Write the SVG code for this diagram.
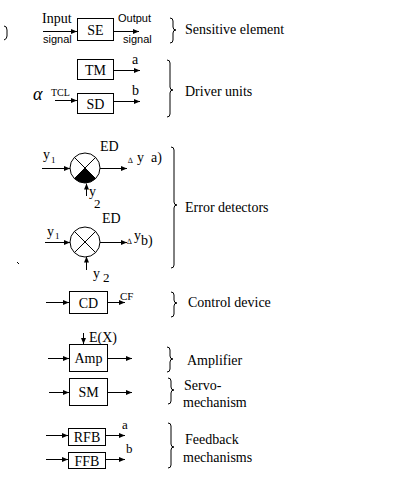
<svg xmlns="http://www.w3.org/2000/svg" width="400" height="481" viewBox="0 0 400 481">
<style>
.s{font-family:"Liberation Serif","Times New Roman","DejaVu Serif",serif;font-size:14px;fill:#000}
.m{text-anchor:middle}
.a{font-family:"Liberation Sans",Arial,sans-serif;font-size:11px;fill:#000}
.box{fill:#fff;stroke:#000;stroke-width:1}
.ln{stroke:#000;stroke-width:1;fill:none}
.ar{stroke:#000;stroke-width:1;fill:none;marker-end:url(#ah)}
</style>
<defs>
<marker id="ah" markerWidth="6" markerHeight="5" refX="6" refY="2.5" orient="auto" markerUnits="userSpaceOnUse">
<path d="M0,0 L6,2.5 L0,5 z" fill="#000"/>
</marker>
</defs>
<rect width="400" height="481" fill="#fff"/>

<g id="connectors">
<path class="ar" d="M43,31.5 H77"/>
<path class="ar" d="M113.5,31.5 H139"/>
<path class="ar" d="M114,70.5 H140"/>
<path class="ar" d="M55,100.5 H77"/>
<path class="ar" d="M114,101.5 H140"/>
<path class="ar" d="M42,168.5 H70"/>
<path class="ar" d="M100,168.5 H127"/>
<path class="ar" d="M86.5,196 V183.5"/>
<path class="ar" d="M45,242.5 H70"/>
<path class="ar" d="M100,242.5 H127"/>
<path class="ar" d="M86.5,270 V256.5"/>
<path class="ar" d="M46,302.5 H69"/>
<path class="ar" d="M107.5,302.5 H125"/>
<path class="ar" d="M83.5,333 V344"/>
<path class="ar" d="M48,358.5 H69"/>
<path class="ar" d="M107.5,358.5 H132"/>
<path class="ar" d="M49,392.5 H69"/>
<path class="ar" d="M107.5,392.5 H132"/>
<path class="ar" d="M46,435.5 H68"/>
<path class="ar" d="M105.5,435.5 H125"/>
<path class="ar" d="M46,459.5 H68"/>
<path class="ar" d="M105.5,459.5 H125"/>
</g>

<g id="SE">
<rect class="box" x="77.5" y="18.5" width="36" height="22"/>
<text class="s m" x="95.5" y="35">SE</text>
<text class="s" x="42" y="23">Input</text>
<text class="a" x="43" y="43">signal</text>
<text class="a" x="118" y="22">Output</text>
<text class="a" x="123" y="43">signal</text>
</g>

<g id="TM">
<rect class="box" x="77.5" y="59.5" width="36" height="20"/>
<text class="s m" x="95.5" y="75">TM</text>
<text class="s" x="132" y="64">a</text>
</g>

<g id="SD">
<rect class="box" x="77.5" y="93.5" width="36" height="20"/>
<text class="s m" x="95.5" y="109">SD</text>
<text class="s" x="132" y="95">b</text>
<text class="s" x="33" y="100" style="font-style:italic;font-size:18px">α</text>
<text class="s" x="51" y="96" style="font-size:10px">TCL</text>
</g>

<g id="EDa">
<circle class="box" cx="85" cy="168" r="15"/>
<path d="M85,168 L95.6,178.6 A15,15 0 0 1 74.4,178.6 Z" fill="#000"/>
<path class="ln" d="M74.4,157.4 L95.6,178.6 M95.6,157.4 L74.4,178.6"/>
<text class="s" x="100" y="151">ED</text>
<text class="s" x="43" y="159">y</text>
<text class="s" x="51" y="163" style="font-size:9px">1</text>
<text class="s" x="128" y="163" style="font-size:8px">∆</text>
<text class="s" x="137" y="162">y</text>
<text class="s" x="151" y="162">a)</text>
<text class="s" x="89" y="196">y</text>
<text class="s" x="94" y="208" style="font-size:13px">2</text>
</g>

<g id="EDb">
<circle class="box" cx="85" cy="242" r="15"/>
<path class="ln" d="M74.4,231.4 L95.6,252.6 M95.6,231.4 L74.4,252.6"/>
<text class="s" x="102" y="223">ED</text>
<text class="s" x="47" y="236">y</text>
<text class="s" x="55" y="239" style="font-size:9px">1</text>
<text class="s" x="127" y="244" style="font-size:8px">∆</text>
<text class="s" x="134" y="240">y</text>
<text class="s" x="141" y="245">b)</text>
<text class="s" x="93" y="278">y</text>
<text class="s" x="103" y="282" style="font-size:13px">2</text>
</g>

<g id="CD">
<rect class="box" x="69.5" y="291.5" width="38" height="22"/>
<text class="s m" x="88.5" y="308">CD</text>
<text class="s" x="120" y="300" style="font-size:11px">CF</text>
</g>

<g id="Amp">
<text class="s" x="89" y="342">E(X)</text>
<rect class="box" x="69.5" y="344.5" width="38" height="27"/>
<text class="s m" x="88.5" y="363">Amp</text>
</g>

<g id="SM">
<rect class="box" x="69.5" y="378.5" width="38" height="27"/>
<text class="s m" x="88.5" y="397">SM</text>
</g>

<g id="RFB">
<rect class="box" x="68.5" y="428.5" width="37" height="17"/>
<text class="s m" x="87" y="442">RFB</text>
<text class="s" x="122" y="429" style="font-size:13px">a</text>
</g>

<g id="FFB">
<rect class="box" x="68.5" y="452.5" width="37" height="16"/>
<text class="s m" x="87" y="466">FFB</text>
<text class="s" x="126" y="453" style="font-size:13px">b</text>
</g>

<g id="labels">
<path class="ln" d="M170,18 q3,0 3,3 V27 q0,3 3,3 q-3,0 -3,3 V40 q0,3 -3,3"/>
<text class="s" x="185" y="34">Sensitive element</text>
<path class="ln" d="M167,60 q3,0 3,3 V87 q0,3 3,3 q-3,0 -3,3 V114 q0,3 -3,3"/>
<text class="s" x="185" y="96">Driver units</text>
<path class="ln" d="M171,147 q3,0 3,3 V202 q0,3 3,3 q-3,0 -3,3 V265 q0,3 -3,3"/>
<text class="s" x="185" y="212">Error detectors</text>
<path class="ln" d="M171,292 q3,0 3,3 V300 q0,3 3,3 q-3,0 -3,3 V314 q0,3 -3,3"/>
<text class="s" x="188" y="307">Control device</text>
<path class="ln" d="M167,347 q3,0 3,3 V356 q0,3 3,3 q-3,0 -3,3 V369 q0,3 -3,3"/>
<text class="s" x="187" y="365">Amplifier</text>
<path class="ln" d="M168,378 q3,0 3,3 V387 q0,3 3,3 q-3,0 -3,3 V401 q0,3 -3,3"/>
<text class="s" x="184" y="390">Servo-</text>
<text class="s" x="183" y="407">mechanism</text>
<path class="ln" d="M168,423 q3,0 3,3 V444 q0,3 3,3 q-3,0 -3,3 V465 q0,3 -3,3"/>
<text class="s" x="185" y="444">Feedback</text>
<text class="s" x="183" y="462">mechanisms</text>
<path class="ln" d="M4,26 q3,0 3,4 V36 q0,3 -3,4"/>
<path class="ln" d="M17,262 l2,2"/>
</g>
</svg>
